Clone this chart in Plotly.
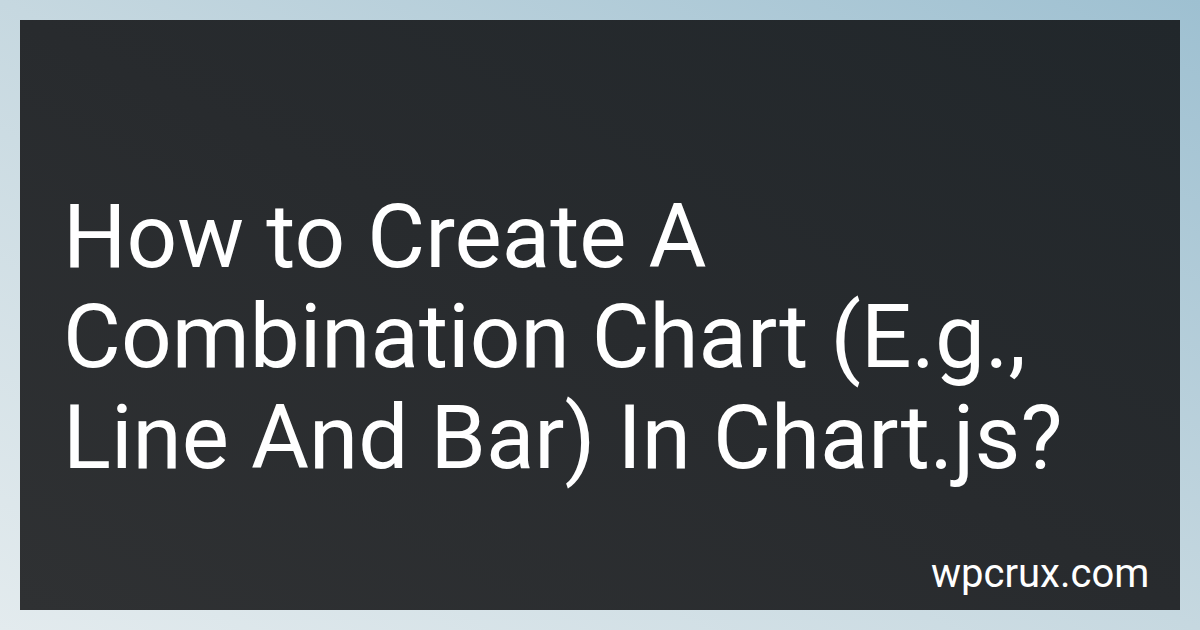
import base64
import plotly.graph_objects as go

title_lines = ["How to Create A", "Combination Chart (E.g.,", "Line And Bar) In Chart.js?"]
site_label = "wpcrux.com"

W, H = 1200, 630

# background: light blue-grey diagonal gradient with a dark card on top
svg = f"""<svg xmlns='http://www.w3.org/2000/svg' width='{W}' height='{H}'>
<defs>
<linearGradient id='bg' x1='0' y1='1' x2='1' y2='0'>
<stop offset='0' stop-color='#e3ebee'/>
<stop offset='0.5' stop-color='#c6d8e0'/>
<stop offset='1' stop-color='#9ec0d1'/>
</linearGradient>
<linearGradient id='card' x1='0' y1='1' x2='1' y2='0'>
<stop offset='0' stop-color='#2f3133'/>
<stop offset='0.5' stop-color='#282b2e'/>
<stop offset='1' stop-color='#21272b'/>
</linearGradient>
</defs>
<rect width='{W}' height='{H}' fill='url(#bg)'/>
<rect x='20' y='20' width='1160' height='590' fill='url(#card)'/>
</svg>"""
bg_src = "data:image/svg+xml;base64," + base64.b64encode(svg.encode()).decode()

fig = go.Figure()

def py(p):
    return 1 - p / H

annotations = []
for i, line in enumerate(title_lines):
    annotations.append(dict(
        text=line, x=61 / W, y=py(236 + i * 100.5), xref="paper", yref="paper",
        xanchor="left", yanchor="middle", showarrow=False,
        font=dict(family="Roboto", size=89, color="#ffffff")))
annotations.append(dict(
    text=site_label, x=1151 / W, y=py(573), xref="paper", yref="paper",
    xanchor="right", yanchor="middle", showarrow=False,
    font=dict(family="Roboto", size=40, color="#ffffff")))

fig.update_layout(
    width=W, height=H,
    margin=dict(l=0, r=0, t=0, b=0),
    paper_bgcolor="#c6d8e0", plot_bgcolor="rgba(0,0,0,0)",
    xaxis=dict(visible=False, range=[0, 1]),
    yaxis=dict(visible=False, range=[0, 1]),
    showlegend=False,
    images=[dict(source=bg_src, xref="paper", yref="paper", x=0, y=1,
                 sizex=1, sizey=1, xanchor="left", yanchor="top",
                 sizing="stretch", layer="below")],
    annotations=annotations,
)

fig.write_html("out.html", config={"displayModeBar": False},
               post_script="document.body.style.margin='0';")
